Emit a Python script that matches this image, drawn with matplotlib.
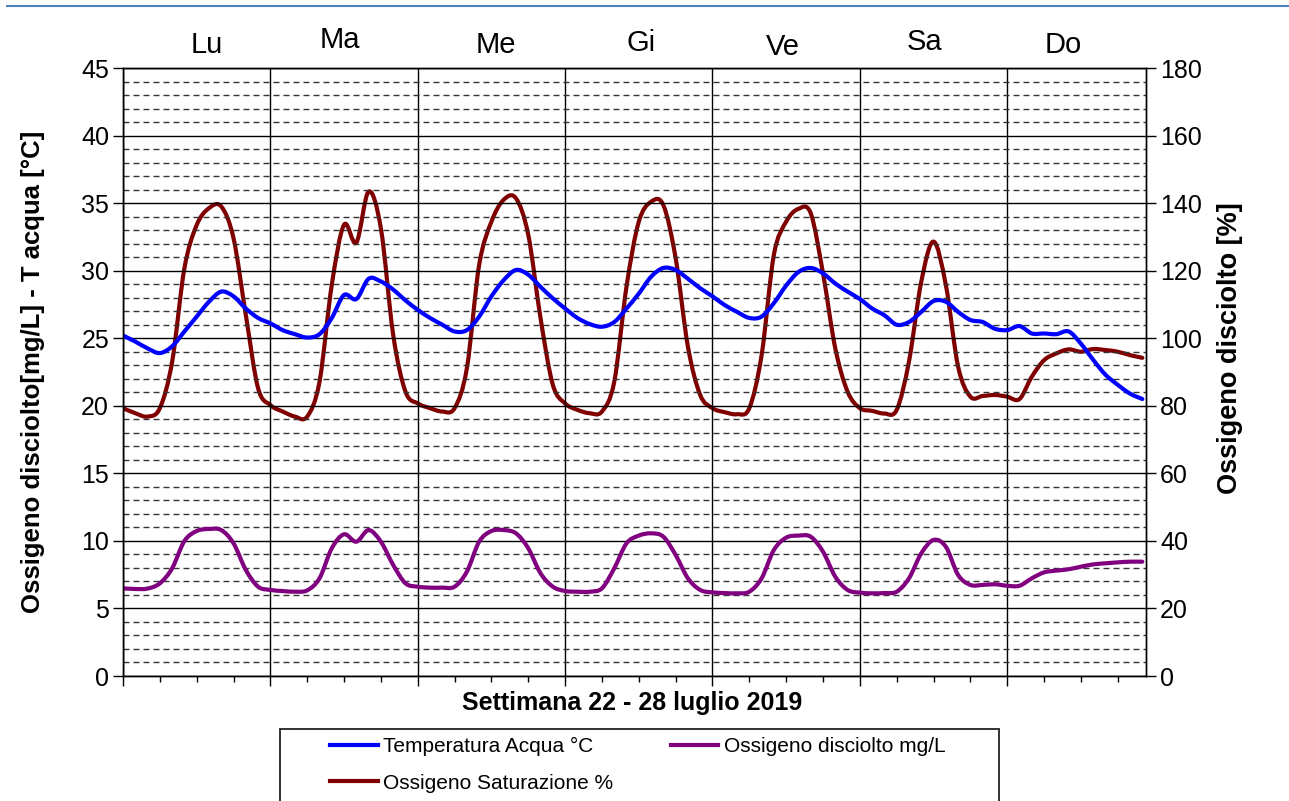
import numpy as np
import matplotlib.pyplot as plt
from matplotlib.ticker import MultipleLocator
from matplotlib.lines import Line2D
from matplotlib.patches import Rectangle, PathPatch
from matplotlib.path import Path

plt.rcParams['font.family'] = ['Liberation Sans', 'DejaVu Sans']

# dati, un punto ogni 2 ore (22 - 28 luglio 2019)
giorni = ['Lu', 'Ma', 'Me', 'Gi', 'Ve', 'Sa', 'Do']
ore = np.arange(0, 167, 2)

temperatura = [25.2, 24.75, 24.25, 23.9, 24.4, 25.5, 26.6, 27.7, 28.45, 28.1, 27.2, 26.5,
               26.1, 25.6, 25.3, 25.05, 25.3, 26.5, 28.2, 27.9, 29.4, 29.2, 28.6, 27.8,
               27.1, 26.5, 26.0, 25.5, 25.6, 26.6, 28.1, 29.3, 30.05, 29.7, 28.8, 27.95,
               27.2, 26.5, 26.05, 25.85, 26.2, 27.2, 28.3, 29.55, 30.2, 30.05, 29.4, 28.7,
               28.1, 27.45, 26.95, 26.5, 26.6, 27.6, 28.9, 29.9, 30.2, 29.8, 29.05, 28.45,
               27.9, 27.2, 26.7, 26.0, 26.2, 26.95, 27.75, 27.7, 26.95, 26.35, 26.2, 25.7,
               25.6, 25.9, 25.35, 25.35, 25.3, 25.5, 24.6, 23.4, 22.3, 21.55, 20.9, 20.5]

saturazione = [79.3, 77.8, 76.8, 79.3, 93, 120.7, 133.5, 138.5, 139, 129.6, 106.9, 85.2,
               80.2, 78.3, 76.8, 76.8, 87.1, 115.8, 133.6, 128.3, 143.4, 132.5, 101, 84.2,
               80.7, 79.3, 78.3, 79.3, 91.1, 121.7, 134.5, 141, 141.4, 130.6, 105.9, 86.2,
               80.7, 78.8, 77.8, 78.3, 87.1, 115.3, 134.5, 140.4, 139.4, 123.7, 97.5, 83.2,
               79.3, 78.1, 77.5, 79.3, 95, 124.7, 134.5, 138.3, 137, 119.2, 97, 84.2,
               79.3, 78.5, 77.7, 78.8, 93.1, 116.7, 128.6, 115.8, 91.6, 82.7, 82.9, 83.2,
               82.7, 82, 88.6, 93.5, 95.5, 96.7, 96, 96.8, 96.5, 96, 95, 94.2]

ossigeno = [6.49, 6.44, 6.47, 6.86, 7.97, 9.99, 10.73, 10.88, 10.8, 9.82, 7.85, 6.61,
            6.37, 6.29, 6.24, 6.34, 7.23, 9.45, 10.49, 9.94, 10.8, 9.94, 8.22, 6.86,
            6.61, 6.54, 6.54, 6.61, 7.72, 9.94, 10.73, 10.8, 10.56, 9.45, 7.6, 6.61,
            6.29, 6.24, 6.24, 6.49, 7.97, 9.82, 10.39, 10.56, 10.31, 8.96, 7.23, 6.37,
            6.19, 6.14, 6.12, 6.24, 7.23, 9.33, 10.24, 10.39, 10.31, 9.2, 7.35, 6.37,
            6.17, 6.12, 6.14, 6.24, 7.23, 9.08, 10.07, 9.57, 7.48, 6.74, 6.74, 6.79,
            6.68, 6.68, 7.23, 7.67, 7.8, 7.9, 8.09, 8.26, 8.34, 8.41, 8.46, 8.46]

x = ore / 24.0


def linea_smussata(ax, xs, ys, colore):
    # linea "smussata" come in Excel: segmenti di Bezier tra i punti letti
    p = np.column_stack([xs, ys]).astype(float)
    pp = np.vstack([p[0], p, p[-1]])
    verts = [p[0]]
    codes = [Path.MOVETO]
    for i in range(len(p) - 1):
        p0, p1, p2, p3 = pp[i], pp[i + 1], pp[i + 2], pp[i + 3]
        verts += [p1 + (p2 - p0) / 6, p2 - (p3 - p1) / 6, p2]
        codes += [Path.CURVE4] * 3
    patch = PathPatch(Path(verts, codes), fill=False, ec=colore, lw=3,
                      joinstyle='round', capstyle='round')
    ax.add_patch(patch)
    return Line2D([], [], color=colore, lw=3)


W, H = 1289, 801
fig = plt.figure(figsize=(W / 100, H / 100), dpi=100)
ax = fig.add_axes([123 / W, 1 - 676 / H, (1146 - 123) / W, (676 - 68) / H])
ax2 = ax.twinx()

# asse sinistro sopra (trasparente), asse destro sotto con la griglia
ax.set_zorder(2)
ax2.set_zorder(1)
ax.patch.set_visible(False)
ax2.patch.set_visible(True)
ax2.patch.set_facecolor('white')

ax.set_xlim(0, 166.6 / 24)
ax.set_ylim(0, 45)
ax2.set_ylim(0, 180)

ax.xaxis.set_major_locator(MultipleLocator(1))
ax.xaxis.set_minor_locator(MultipleLocator(0.25))
ax.yaxis.set_major_locator(MultipleLocator(5))
ax2.yaxis.set_major_locator(MultipleLocator(20))
ax2.yaxis.set_minor_locator(MultipleLocator(4))

ax.tick_params(axis='x', which='major', direction='out', length=7, width=1, labelbottom=False)
ax.tick_params(axis='x', which='minor', direction='out', length=4, width=1)
ax.tick_params(axis='y', which='major', direction='out', length=7, width=1, labelsize=18, pad=3)
ax2.tick_params(axis='y', which='major', direction='out', length=7, width=1, labelsize=18, pad=3)
ax2.tick_params(axis='y', which='minor', length=0)

ax2.xaxis.set_visible(True)
ax2.tick_params(axis='x', which='both', length=0, labelbottom=False, labeltop=False)
ax2.grid(axis='x', which='major', color='black', lw=1)
ax2.grid(axis='y', which='major', color='black', lw=1)
ax2.grid(axis='y', which='minor', color='#333333', lw=1, linestyle=(0, (4.3, 2.9)))

for a in (ax, ax2):
    for s in a.spines.values():
        s.set_color('black')
        s.set_linewidth(1)

h_sat = linea_smussata(ax2, x, saturazione, '#800000')
h_temp = linea_smussata(ax, x, temperatura, '#0000FF')
h_oss = linea_smussata(ax, x, ossigeno, '#800080')

# nomi dei giorni sopra il grafico
pos_giorni = [(207, 45), (340, 40), (496, 45), (641, 43), (783, 47), (924, 42), (1063, 45)]
for g, (px, py) in zip(giorni, pos_giorni):
    fig.text(px / W, 1 - py / H, g, ha='center', va='center', fontsize=21)

fig.text(632 / W, 1 - 703 / H, 'Settimana 22 - 28 luglio 2019', ha='center', va='center',
         fontsize=18, fontweight='bold')
fig.text(33 / W, 1 - 372 / H, 'Ossigeno disciolto[mg/L] - T acqua [°C]', rotation=90,
         ha='center', va='center', fontsize=18.5, fontweight='bold')
fig.text(1230 / W, 1 - 348 / H, 'Ossigeno disciolto [%]', rotation=90,
         ha='center', va='center', fontsize=19.5, fontweight='bold')

# legenda (riquadro tagliato in basso come nell'originale)
fig.add_artist(Rectangle((280 / W, -0.1), (999 - 280) / W, 0.1 + 1 - 729 / H,
                         transform=fig.transFigure, fill=False, ec='#222222', lw=1.3))
fig.legend([h_temp, h_sat, h_oss],
           ['Temperatura Acqua °C', 'Ossigeno Saturazione %', 'Ossigeno disciolto mg/L'],
           loc='upper left', bbox_to_anchor=(330 / W, 1 - 737 / H), ncol=2, frameon=False,
           fontsize=15, borderpad=0, borderaxespad=0, handlelength=2.3, handletextpad=0.25,
           columnspacing=2.75, labelspacing=0.85)

fig.add_artist(Line2D([7 / W, 1], [1 - 6 / H, 1 - 6 / H], transform=fig.transFigure,
                      color='#4F81BD', lw=1.5))

plt.savefig('out.png', dpi=100)
